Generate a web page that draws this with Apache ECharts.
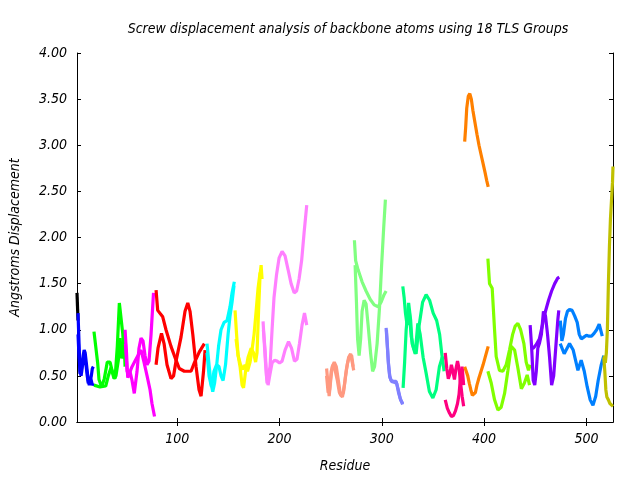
<!DOCTYPE html>
<html><head><meta charset="utf-8">
<script src="https://cdn.jsdelivr.net/npm/echarts@6/dist/echarts.min.js"></script>
<style>html,body{margin:0;padding:0;background:#fff}#c{width:640px;height:480px}</style>
</head><body><div id="c"></div>
<script>
const titleText = "Screw displacement analysis of backbone atoms using 18 TLS Groups";
const xName = "Residue";
const yName = "Angstroms Displacement";
const xTicks = [100, 200, 300, 400, 500];

// [residue, displacement] pairs, two traces per TLS group
const g00a = [[2,1.40],[3,1.10]];
const g01a = [[3,1.18],[4,0.85],[5,0.52],[6,0.55],[7,0.62],[8,0.72],[9,0.78],[10,0.75],[11,0.65],[12,0.55],[13,0.45],[14,0.40],[15,0.42],[16,0.50],[17,0.58],[18,0.60]];
const g01b = [[3,0.95],[4,0.70],[5,0.55],[6,0.50],[7,0.58],[8,0.68],[9,0.72],[10,0.70],[11,0.60],[12,0.50],[13,0.42],[14,0.42],[15,0.48],[16,0.45],[17,0.40],[18,0.42]];
const g02a = [[18.6,0.98],[20.3,0.82],[22.2,0.64],[23.5,0.46],[26.1,0.38],[28.7,0.47],[31.6,0.65],[34.3,0.65],[36.5,0.55],[39.2,0.47],[41.4,0.82],[43.4,1.29],[45,1.29],[46.7,0.96],[48.3,0.69]];
const g02b = [[18.6,0.40],[24.5,0.38],[30.1,0.39],[32.6,0.50],[35.3,0.59],[38.2,0.47],[40.1,0.50],[42.4,0.67],[44.1,0.91],[45.7,0.69],[48.3,0.82],[49,0.60]];
const g03a = [[49,1.00],[50.4,0.75],[51.6,0.48],[53.8,0.55],[55.8,0.45],[58,0.31],[60.7,0.55],[62.6,0.80],[64.6,0.91],[66.5,0.88],[68.5,0.72],[70.5,0.62],[72.4,0.66],[74.4,0.95],[76.8,1.40]];
const g03b = [[49.4,0.85],[50.9,0.55],[52.9,0.52],[55.8,0.60],[58.7,0.66],[61.6,0.72],[64.6,0.78],[67.5,0.65],[70.5,0.50],[73.4,0.35],[75.3,0.20],[77.8,0.06]];
const g04a = [[79.3,1.43],[80.9,1.21],[85.8,1.14],[89,1.00],[93.9,0.82],[98.8,0.67],[102,0.58],[106.9,0.55],[113.5,0.55],[116.7,0.64],[121.6,0.76],[126.5,0.85]];
const g04b = [[79.3,0.62],[81.2,0.80],[84.6,0.96],[87.1,0.85],[90,0.62],[93.9,0.47],[96.4,0.50],[98.8,0.66],[103.7,0.92],[107.6,1.20],[110.3,1.29],[112.5,1.20],[115.2,0.95],[118.4,0.60],[121.3,0.35],[123.3,0.28],[125.7,0.55],[127.2,0.78]];
const g05a = [[129.1,0.85],[131.1,0.62],[133,0.42],[134.7,0.33],[136.5,0.42],[138.4,0.60],[140.4,0.82],[142.8,1.00],[145.8,1.08],[148.7,1.10],[151.6,1.25],[153.6,1.40],[155.8,1.52]];
const g05b = [[129.1,0.75],[131.1,0.50],[133.5,0.38],[135.9,0.55],[138.4,0.62],[140.8,0.60],[142.8,0.50],[144.8,0.45],[147.2,0.62],[149.7,0.95],[151.6,1.15],[153.6,1.30],[155.5,1.48]];
const g06a = [[156.5,1.21],[158,0.95],[159.5,0.72],[161.4,0.60],[163.4,0.40],[164.8,0.37],[166.8,0.55],[169.2,0.70],[172.2,0.80],[174.6,0.75],[176.6,0.65],[178,0.75],[179.5,1.20],[181,1.60],[182,1.70],[182.9,1.55]];
const g06b = [[157.5,0.90],[159.5,0.72],[161.9,0.62],[164.3,0.57],[166.3,0.62],[168.7,0.55],[171.2,0.65],[173.1,0.78],[175.1,0.95],[177.1,1.20],[179,1.45],[181,1.62]];
const g07a = [[183.9,1.09],[185.9,0.70],[187.8,0.42],[189.3,0.40],[190.7,0.60],[192.7,1.00],[194.6,1.35],[197.1,1.60],[199.6,1.78],[202.5,1.85],[205.4,1.80],[208.4,1.65],[211.3,1.50],[214.3,1.40],[216.7,1.42],[219.1,1.55],[221.6,1.75],[224,2.05],[226.6,2.35]];
const g07b = [[184.2,1.00],[185.9,0.78],[187.3,0.50],[188.8,0.40],[190.7,0.52],[192.7,0.64],[195.1,0.67],[197.6,0.66],[200,0.64],[202.5,0.66],[205.4,0.78],[208.8,0.87],[211.7,0.80],[214.6,0.66],[217.1,0.68],[219.5,0.85],[222,1.05],[224.4,1.18],[226.6,1.05]];
const g08a = [[246,0.58],[247.5,0.40],[248.5,0.28],[250,0.45],[251.5,0.60],[253.5,0.65],[255.5,0.60],[257.5,0.45],[259.5,0.30],[261.5,0.27],[263.5,0.40],[265.5,0.58],[267.5,0.70],[269.5,0.74],[271,0.65],[272.5,0.56]];
const g08b = [[246,0.50],[247.5,0.32],[249,0.35],[250.5,0.55],[252.5,0.62],[254.5,0.55],[256.5,0.45],[258.5,0.32],[260.5,0.28],[262.5,0.32],[264.5,0.50],[266.5,0.64],[268.5,0.72],[270.5,0.72],[272,0.60]];
const g09a = [[273.2,1.97],[274.4,1.75],[276.8,1.65],[280.7,1.52],[284.6,1.42],[288.6,1.33],[292.5,1.27],[296.4,1.25],[299.3,1.30],[302.2,1.38],[304.2,1.42]];
const g09b = [[273.9,1.70],[275.2,1.30],[276.3,0.90],[277.8,0.72],[279.3,0.90],[280.7,1.20],[282.7,1.32],[284.6,1.28],[286.6,1.05],[289,0.75],[291,0.55],[292.9,0.60],[295.4,0.85],[297.8,1.25],[299.8,1.70],[301.8,2.10],[303.5,2.41]];
const g10a = [[304.2,1.02],[305.2,0.85],[306.2,0.68],[307.6,0.50],[309.1,0.45],[311.5,0.44],[314,0.44],[315.9,0.36],[317.9,0.26],[320.3,0.19]];
const g10b = [[304.5,1.00],[305.5,0.82],[306.5,0.62],[308,0.48],[309.5,0.44],[312,0.43],[314.5,0.42],[316.3,0.32],[318.3,0.24],[320.5,0.20]];
const g11a = [[320.5,1.47],[321.8,1.35],[323.1,1.18],[324.7,1.05],[326.7,1.22],[328.7,0.93],[331.1,0.80],[333.5,0.74],[336.5,1.05],[339.9,1.30],[343.3,1.38],[346.7,1.32],[350.2,1.18],[353.6,1.10],[356.5,0.95],[359,0.70],[360.9,0.55]];
const g11b = [[320.8,0.37],[322.3,0.65],[323.8,1.00],[326.2,1.29],[328.2,1.10],[329.6,0.85],[332.6,0.74],[335.2,1.07],[337.5,0.95],[340.4,0.70],[343.3,0.53],[346.5,0.33],[349.9,0.26],[353.1,0.35],[356.3,0.60],[359,0.70],[361.4,0.68]];
const g12a = [[362,0.75],[363.5,0.58],[365,0.47],[366.5,0.52],[368,0.62],[369.5,0.55],[371,0.46],[372.5,0.58],[374,0.66],[375.5,0.58],[377,0.42],[378.5,0.28],[380,0.17]];
const g12b = [[362,0.24],[364,0.15],[366,0.10],[368,0.06],[370,0.07],[372,0.12],[374,0.20],[375.5,0.30],[377,0.50],[378.5,0.60],[380,0.40]];
const g13a = [[381,3.04],[382,3.20],[383,3.40],[384.5,3.53],[386,3.56],[387.5,3.50],[389,3.38],[391,3.25],[393,3.12],[395,3.00],[397,2.90],[399,2.80],[401,2.70],[402.5,2.62],[404,2.55]];
const g13b = [[381,0.60],[382.5,0.55],[384,0.50],[385.5,0.42],[387,0.35],[388.5,0.29],[390,0.28],[391.5,0.32],[393,0.40],[395,0.48],[397,0.55],[399,0.62],[401,0.70],[402.5,0.76],[404,0.82]];
const g14a = [[403.7,1.77],[405.3,1.50],[407.9,1.45],[410.2,1.00],[411.8,0.71],[415,0.56],[418.3,0.55],[421.6,0.62],[424.8,0.78],[427.9,0.95],[430.4,1.04],[433,1.07],[435.7,1.00],[438.9,0.85],[441.1,0.65],[443.4,0.56],[445,0.62]];
const g14b = [[403.7,0.55],[407,0.42],[410.2,0.24],[413.5,0.13],[416.7,0.16],[420,0.31],[423.3,0.56],[426.5,0.82],[429.8,0.78],[433.1,0.58],[436.4,0.36],[439.3,0.42],[442.1,0.51],[444.4,0.40]];
const g15a = [[445,1.05],[446.5,0.80],[448,0.45],[449.5,0.40],[451,0.55],[452.5,0.80],[454,0.85],[456,0.95],[458,1.20],[460,1.15],[462,0.95],[464,0.70],[466,0.40],[468,0.50],[470,0.80],[472,1.10],[473,1.21]];
const g15b = [[445.5,0.80],[448,0.80],[451,0.84],[454,0.90],[457,1.05],[460,1.20],[463,1.32],[466,1.42],[469,1.50],[472,1.56],[473.5,1.57]];
const g16a = [[474.5,1.10],[476,0.88],[477.5,0.95],[479.5,1.12],[481.5,1.20],[483.5,1.22],[486,1.21],[488.5,1.15],[491,1.08],[493,0.95],[495,0.90],[497.5,0.92],[500,0.94],[502.5,0.93],[505,0.93],[507.5,0.96],[510,1.00],[512.5,1.06],[514,1.05],[515.5,0.93]];
const g16b = [[474.4,0.85],[478.3,0.74],[483.5,0.85],[487.1,0.78],[491.7,0.56],[494.9,0.67],[497.9,0.55],[500.8,0.38],[503.7,0.24],[506.4,0.18],[509.1,0.28],[511.5,0.45],[514.5,0.62],[517,0.72]];
const g17a = [[517,0.70],[518,0.55],[519,0.35],[520,0.27],[521.5,0.24],[523,0.20],[524.5,0.18],[526,0.17]];
const g17b = [[517.5,0.72],[518.5,0.64],[519.5,0.75],[520.5,1.00],[521.5,1.50],[522.5,1.90],[523.5,2.20],[524.5,2.40],[525.5,2.60],[526,2.77]];

const traces = [
  [g00a,'#000000'],
  [g01a,'#0000ff'],[g01b,'#0000ff'],
  [g02a,'#00ff00'],[g02b,'#00ff00'],
  [g03a,'#ff00ff'],[g03b,'#ff00ff'],
  [g04a,'#ff0000'],[g04b,'#ff0000'],
  [g05a,'#00ffff'],[g05b,'#00ffff'],
  [g06a,'#ffff00'],[g06b,'#ffff00'],
  [g07a,'#ff80ff'],[g07b,'#ff80ff'],
  [g08a,'#ff9980'],[g08b,'#ff9980'],
  [g09a,'#80ff80'],[g09b,'#80ff80'],
  [g10a,'#8080ff'],[g10b,'#8080ff'],
  [g11a,'#00ff80'],[g11b,'#00ff80'],
  [g12a,'#ff0080'],[g12b,'#ff0080'],
  [g13a,'#ff8000'],[g13b,'#ff8000'],
  [g14a,'#80ff00'],[g14b,'#80ff00'],
  [g15a,'#8000ff'],[g15b,'#8000ff'],
  [g16a,'#0080ff'],[g16b,'#0080ff'],
  [g17a,'#c0c000'],[g17b,'#c0c000']
];

const FONT = 'DejaVu Sans Condensed';
const txt = {fontFamily: FONT, fontStyle: 'italic', fontSize: 14, color: '#000'};
const chart = echarts.init(document.getElementById('c'), null, {renderer: 'canvas'});
const xCommon = {type: 'value', min: 2, max: 526,
  axisLine: {show: true, lineStyle: {color: '#000', width: 1}}, splitLine: {show: false}};
const yCommon = {type: 'value', min: 0, max: 4, interval: 0.5,
  axisLine: {show: true, lineStyle: {color: '#000', width: 1}}, splitLine: {show: false}};
chart.setOption({
  animation: false,
  backgroundColor: '#fff',
  title: {text: titleText, left: 343, textAlign: 'center', top: 17,
    textStyle: Object.assign({}, txt, {fontWeight: 'normal'})},
  grid: {left: 76, right: 27, top: 53, bottom: 58},
  xAxis: [
    Object.assign({}, xCommon, {position: 'bottom', name: xName, nameLocation: 'middle', nameGap: 37,
      nameTextStyle: txt,
      axisTick: {show: true, inside: true, length: 4, customValues: xTicks, lineStyle: {color: '#000'}},
      axisLabel: Object.assign({}, txt, {margin: 10, customValues: xTicks})}),
    Object.assign({}, xCommon, {position: 'top',
      axisTick: {show: true, inside: true, length: 4, customValues: xTicks, lineStyle: {color: '#000'}},
      axisLabel: {show: false}})
  ],
  yAxis: [
    Object.assign({}, yCommon, {position: 'left', name: yName, nameLocation: 'middle', nameGap: 55,
      nameTextStyle: txt,
      axisTick: {show: true, inside: true, length: 4, lineStyle: {color: '#000'}},
      axisLabel: Object.assign({}, txt, {margin: 10, formatter: v => v.toFixed(2)})}),
    Object.assign({}, yCommon, {position: 'right',
      axisTick: {show: true, inside: true, length: 4, lineStyle: {color: '#000'}},
      axisLabel: {show: false}})
  ],
  series: traces.map(([d, c]) => ({
    type: 'line', data: d, xAxisIndex: 0, yAxisIndex: 0,
    showSymbol: false, symbol: 'none', silent: true, clip: true,
    lineStyle: {color: c, width: 3.2}, itemStyle: {color: c}
  }))
});
</script></body></html>
